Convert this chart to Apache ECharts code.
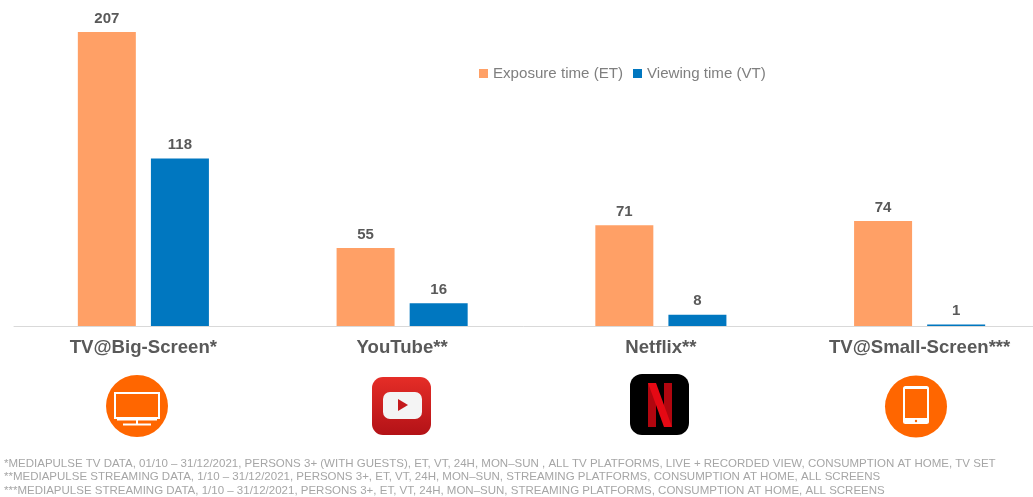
<!DOCTYPE html>
<html>
<head>
<meta charset="utf-8">
<style>html,body{margin:0;padding:0;background:#fff}#chart{width:1033px;height:497px}</style>
<script src="https://cdn.jsdelivr.net/npm/echarts@6/dist/echarts.min.js"></script>
</head>
<body>
<div id="chart"></div>
<script>
const categories = ['TV@Big-Screen*', 'YouTube**', 'Netflix**', 'TV@Small-Screen***'];
const exposureTime = [207, 55, 71, 74];
const viewingTime = [118, 16, 8, 1];
const footnotes = [
  '*MEDIAPULSE TV DATA, 01/10 – 31/12/2021, PERSONS 3+ (WITH GUESTS), ET, VT, 24H, MON–SUN , ALL TV PLATFORMS, LIVE + RECORDED VIEW, CONSUMPTION AT HOME, TV SET',
  '**MEDIAPULSE STREAMING DATA, 1/10 – 31/12/2021, PERSONS 3+, ET, VT, 24H, MON–SUN, STREAMING PLATFORMS, CONSUMPTION AT HOME, ALL SCREENS',
  '***MEDIAPULSE STREAMING DATA, 1/10 – 31/12/2021, PERSONS 3+, ET, VT, 24H, MON–SUN, STREAMING PLATFORMS, CONSUMPTION AT HOME, ALL SCREENS'
];

const ORANGE = '#FF6600';
const SANS = '"Liberation Sans", Arial, sans-serif';

// Pictograms under the category labels
const tvIcon = {
  type: 'group', children: [
    { type: 'circle', shape: { cx: 137, cy: 406, r: 31 }, style: { fill: ORANGE } },
    { type: 'rect', shape: { x: 115, y: 393, width: 44, height: 25 }, style: { fill: 'none', stroke: '#fff', lineWidth: 2 } },
    { type: 'rect', shape: { x: 117, y: 418, width: 40, height: 2.5 }, style: { fill: '#fff' } },
    { type: 'rect', shape: { x: 136, y: 420, width: 2, height: 4 }, style: { fill: '#fff' } },
    { type: 'rect', shape: { x: 123, y: 423.5, width: 28, height: 2 }, style: { fill: '#fff' } }
  ]
};
const youtubeIcon = {
  type: 'group', children: [
    { type: 'rect', shape: { x: 372, y: 377, width: 59, height: 58, r: 11 },
      style: { fill: { type: 'linear', x: 0, y: 0, x2: 0, y2: 1, colorStops: [{ offset: 0, color: '#E52D27' }, { offset: 1, color: '#B31217' }] } } },
    { type: 'rect', shape: { x: 383, y: 392, width: 39, height: 27, r: 7 },
      style: { fill: '#F4F4F4' } },
    { type: 'polygon', shape: { points: [[398, 399], [408, 405], [398, 411]] }, style: { fill: '#C4191C' } }
  ]
};
const netflixIcon = {
  type: 'group', children: [
    { type: 'rect', shape: { x: 630, y: 374, width: 59, height: 61, r: 12 }, style: { fill: '#000' } },
    { type: 'rect', shape: { x: 648, y: 383, width: 8, height: 44 }, style: { fill: '#B1060F' } },
    { type: 'rect', shape: { x: 664, y: 383, width: 8, height: 44 }, style: { fill: '#B1060F' } },
    { type: 'polygon', shape: { points: [[648, 383], [656, 383], [672, 427], [664, 427]] }, style: { fill: '#E50914' } }
  ]
};
const tabletIcon = {
  type: 'group', children: [
    { type: 'circle', shape: { cx: 916, cy: 406.5, r: 31 }, style: { fill: ORANGE } },
    { type: 'rect', shape: { x: 903, y: 386, width: 26, height: 38, r: 2.5 }, style: { fill: '#fff' } },
    { type: 'rect', shape: { x: 905, y: 389, width: 22, height: 29 }, style: { fill: ORANGE } },
    { type: 'circle', shape: { cx: 916, cy: 421, r: 1.2 }, style: { fill: ORANGE } }
  ]
};
const footnoteTexts = footnotes.map((text, i) => ({
  type: 'text', x: 4, y: 457.5 + i * 13.5,
  style: { text, fill: '#A6A6A6', font: '11.5px ' + SANS }
}));

const valueLabel = { show: true, position: 'top', distance: 6, color: '#595959', fontFamily: SANS, fontWeight: 'bold', fontSize: 15 };

const chart = echarts.init(document.getElementById('chart'), null, { renderer: 'canvas' });
chart.setOption({
  animation: false,
  backgroundColor: '#fff',
  textStyle: { fontFamily: SANS },
  legend: {
    left: 474, top: 61, itemWidth: 9, itemHeight: 9, itemGap: 10, icon: 'rect',
    textStyle: { color: '#7F7F7F', fontSize: 15.1, fontFamily: SANS }
  },
  // The plot area runs past the right edge of the page
  grid: { left: 14, width: 1035, top: 13.5, bottom: 171, outerBoundsMode: 'none' },
  xAxis: {
    type: 'category', data: categories,
    axisTick: { show: false },
    axisLine: { lineStyle: { color: '#D9D9D9', width: 1 } },
    axisLabel: { color: '#595959', fontSize: 18.6, fontWeight: 'bold', fontFamily: SANS, margin: 12, interval: 0 }
  },
  yAxis: { type: 'value', min: 0, max: 220, show: false, splitLine: { show: false } },
  series: [
    { name: 'Exposure time (ET)', type: 'bar', data: exposureTime, barWidth: 58, barGap: '26%',
      itemStyle: { color: '#FFA066' }, label: valueLabel },
    { name: 'Viewing time (VT)', type: 'bar', data: viewingTime, barWidth: 58,
      itemStyle: { color: '#0077C0' }, label: valueLabel }
  ],
  graphic: { elements: [tvIcon, youtubeIcon, netflixIcon, tabletIcon, ...footnoteTexts] }
});
</script>
</body>
</html>
